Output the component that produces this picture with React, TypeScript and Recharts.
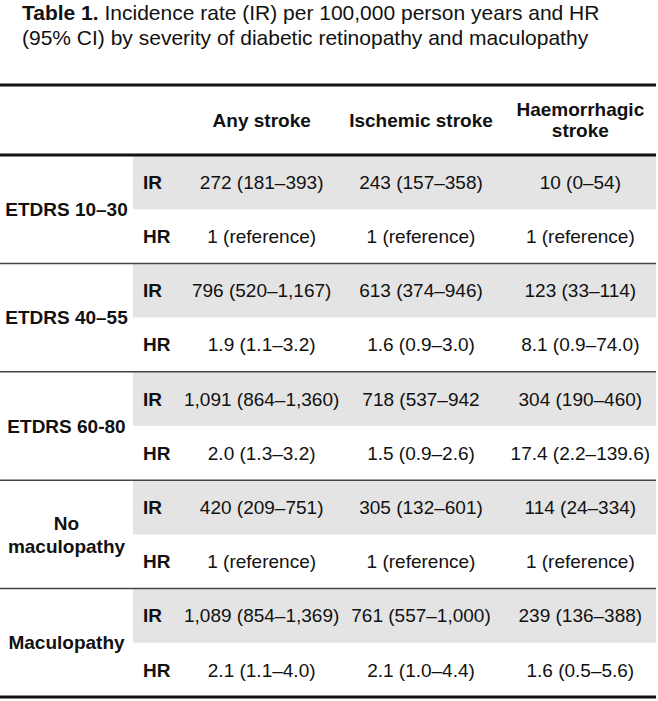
import React from 'react';
import { ScatterChart, Scatter, XAxis, YAxis, ReferenceArea, ReferenceLine } from 'recharts';

// ---------- data ----------
const titleLead = 'Table 1.';
const titleLine1 = 'Incidence rate (IR) per 100,000 person years and HR';
const titleLine2 = '(95% CI) by severity of diabetic retinopathy and maculopathy';

const groups = ['ETDRS 10–30', 'ETDRS 40–55', 'ETDRS 60-80', 'No maculopathy', 'Maculopathy'];
const measures = ['IR', 'HR'];
const strokeTypes = ['Any stroke', 'Ischemic stroke', 'Haemorrhagic stroke'];

const anyStroke = [
  '272 (181–393)', '1 (reference)',
  '796 (520–1,167)', '1.9 (1.1–3.2)',
  '1,091 (864–1,360)', '2.0 (1.3–3.2)',
  '420 (209–751)', '1 (reference)',
  '1,089 (854–1,369)', '2.1 (1.1–4.0)',
];
const ischemicStroke = [
  '243 (157–358)', '1 (reference)',
  '613 (374–946)', '1.6 (0.9–3.0)',
  '718 (537–942', '1.5 (0.9–2.6)',
  '305 (132–601)', '1 (reference)',
  '761 (557–1,000)', '2.1 (1.0–4.4)',
];
const haemorrhagicStroke = [
  '10 (0–54)', '1 (reference)',
  '123 (33–114)', '8.1 (0.9–74.0)',
  '304 (190–460)', '17.4 (2.2–139.6)',
  '114 (24–334)', '1 (reference)',
  '239 (136–388)', '1.6 (0.5–5.6)',
];

// ---------- derived tables ----------
const columnValues = [anyStroke, ischemicStroke, haemorrhagicStroke];
const rowIds = groups.flatMap((g) => measures.map((m) => `${g}|${m}`));
const cellData = strokeTypes.map((s, ci) =>
  rowIds.map((r, ri) => ({ col: s, row: r, text: columnValues[ci][ri] }))
);
const statData = rowIds.map((r, ri) => ({ stat: 'measure', row: r, text: measures[ri % measures.length] }));
const groupData = groups.map((g) => ({ stub: 'group', group: g, text: g }));
const shadedRows = rowIds.filter((r) => r.endsWith('|IR'));

// ---------- layout / style ----------
const W = 658;
const H = 701;
const FONT_NAME = '"Liberation Sans", Arial, Helvetica, sans-serif';
const FS = 19;
const INK = '#111';
const SHADE = '#e4e4e4';
const HEADER_H = 70;
const RULE_H = 1;
const STUB_W = 133;
const PLOT_W = W - 2;
const BODY_W = PLOT_W - STUB_W;
const STAT_INSET = 10;

let measureCtx: CanvasRenderingContext2D | null = null;
const textWidth = (s: string, bold: boolean) => {
  if (!measureCtx) measureCtx = document.createElement('canvas').getContext('2d');
  if (!measureCtx) return s.length * FS * 0.55;
  measureCtx.font = `${bold ? 700 : 400} ${FS}px "Liberation Sans"`;
  return measureCtx.measureText(s).width;
};
const wrapWords = (text: string, maxW: number, bold: boolean) => {
  const words = text.split(' ');
  const lines: string[] = [];
  let cur = '';
  words.forEach((w) => {
    const test = cur ? `${cur} ${w}` : w;
    if (cur && textWidth(test, bold) > maxW) {
      lines.push(cur);
      cur = w;
    } else cur = test;
  });
  if (cur) lines.push(cur);
  return lines;
};

const MultiLine = ({ x, y, text, maxW, lh }: { x: number; y: number; text: string; maxW: number; lh: number }) => {
  const lines = wrapWords(text, maxW, true);
  const first = -((lines.length - 1) / 2) * lh + FS * 0.35;
  return (
    <text x={x} y={y} textAnchor="middle" fontFamily={FONT_NAME} fontSize={FS} fontWeight={700} fill={INK}>
      {lines.map((l, i) => (
        <tspan key={i} x={x} dy={i === 0 ? first : lh}>
          {l}
        </tspan>
      ))}
    </text>
  );
};

const HeaderTick = (props: any) => {
  const { x, y, payload } = props;
  return <MultiLine x={x} y={y - HEADER_H / 2} text={String(payload.value)} maxW={150} lh={21} />;
};

const CellText = (props: any) => (
  <text x={props.cx} y={props.cy} dy="0.35em" textAnchor="middle" fontFamily={FONT_NAME} fontSize={FS} fill={INK}>
    {props.payload.text}
  </text>
);

// the "measure" band spans the whole shaded body; its label sits at the band's left edge
const StatText = (props: any) => (
  <text
    x={props.cx - BODY_W / 2 + STAT_INSET}
    y={props.cy}
    dy="0.35em"
    textAnchor="start"
    fontFamily={FONT_NAME}
    fontSize={FS}
    fontWeight={700}
    fill={INK}
  >
    {props.payload.text}
  </text>
);

const GroupText = (props: any) => <MultiLine x={props.cx} y={props.cy} text={props.payload.text} maxW={128} lh={23} />;

export default function App() {
  return (
    <div style={{ position: 'absolute', left: 0, top: 0, width: W, height: H, background: '#fff' }}>
      <div
        style={{
          position: 'absolute',
          left: 22,
          top: 0,
          width: 630,
          fontFamily: FONT_NAME,
          fontSize: 21,
          lineHeight: '25px',
          color: INK,
        }}
      >
        <b>{titleLead}</b> {titleLine1}
        <br />
        {titleLine2}
      </div>
      <div style={{ position: 'absolute', left: 0, top: 0 }}>
        <ScatterChart width={W} height={H} margin={{ top: 85 - RULE_H, right: W - PLOT_W, bottom: 4, left: 0 }}>
          <XAxis
            xAxisId="cols"
            type="category"
            dataKey="col"
            allowDuplicatedCategory={false}
            orientation="top"
            height={HEADER_H}
            padding={{ left: 182, right: -4 }}
            axisLine={false}
            tickLine={false}
            tickSize={0}
            tickMargin={0}
            interval={0}
            tick={HeaderTick}
          />
          <XAxis
            xAxisId="stub"
            type="category"
            dataKey="stub"
            allowDuplicatedCategory={false}
            orientation="top"
            height={RULE_H}
            tick={false}
            tickLine={false}
            axisLine={{ stroke: INK, strokeWidth: 3 }}
            padding={{ left: 0, right: BODY_W }}
          />
          <XAxis
            xAxisId="stat"
            type="category"
            dataKey="stat"
            allowDuplicatedCategory={false}
            hide
            padding={{ left: STUB_W, right: 0 }}
          />
          <YAxis yAxisId="rows" type="category" dataKey="row" allowDuplicatedCategory={false} hide reversed />
          <YAxis yAxisId="groups" type="category" dataKey="group" allowDuplicatedCategory={false} hide reversed />

          {shadedRows.map((r) => (
            <ReferenceArea
              key={r}
              xAxisId="stat"
              yAxisId="rows"
              y1={r}
              y2={r}
              fill={SHADE}
              fillOpacity={1}
              stroke="none"
              ifOverflow="visible"
            />
          ))}

          {groups.slice(0, -1).map((g) => (
            <ReferenceLine key={g} xAxisId="cols" yAxisId="groups" y={g} position="end" stroke="#444" strokeWidth={1.5} ifOverflow="visible" />
          ))}
          <ReferenceLine xAxisId="cols" yAxisId="groups" y={groups[0]} position="start" stroke={INK} strokeWidth={3} ifOverflow="visible" />
          <ReferenceLine xAxisId="cols" yAxisId="groups" y={groups[groups.length - 1]} position="end" stroke={INK} strokeWidth={3} ifOverflow="visible" />

          {cellData.map((d, i) => (
            <Scatter
              key={strokeTypes[i]}
              name={strokeTypes[i]}
              data={d}
              xAxisId="cols"
              yAxisId="rows"
              shape={CellText}
              isAnimationActive={false}
            />
          ))}
          <Scatter data={statData} xAxisId="stat" yAxisId="rows" shape={StatText} isAnimationActive={false} />
          <Scatter data={groupData} xAxisId="stub" yAxisId="groups" shape={GroupText} isAnimationActive={false} />
        </ScatterChart>
      </div>
    </div>
  );
}
